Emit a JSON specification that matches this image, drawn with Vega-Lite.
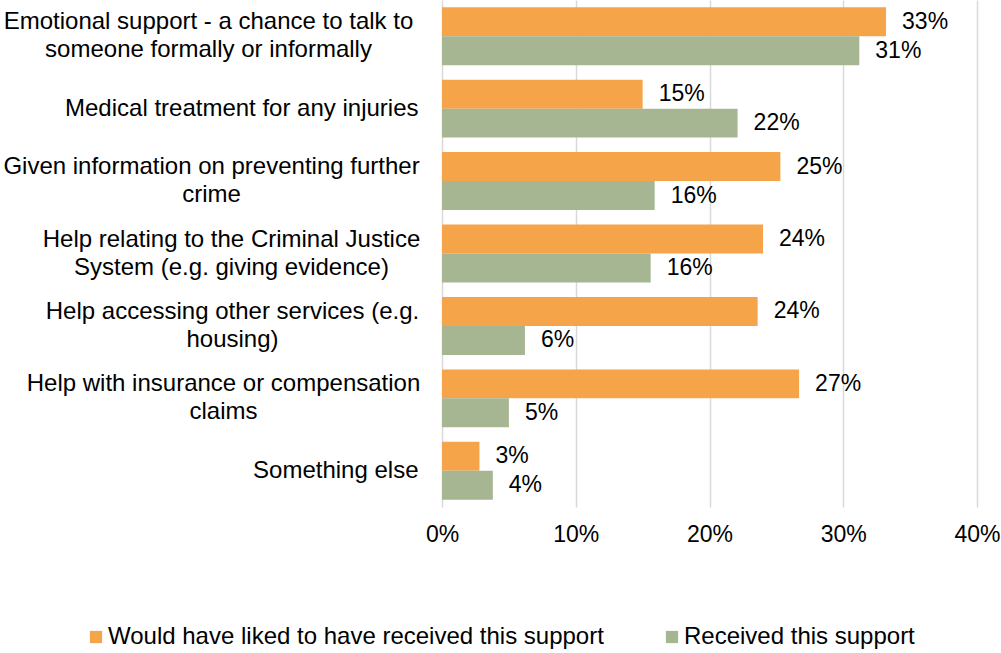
{
  "$schema": "https://vega.github.io/schema/vega-lite/v6.json",
  "width": 535,
  "height": 507,
  "autosize": {"type": "none"},
  "padding": {"left": 442, "top": 0, "right": 24, "bottom": 146},
  "config": {"view": {"stroke": null}, "font": "Liberation Sans"},
  "data": {
    "values": [
      {"category": "Emotional support - a chance to talk to|someone formally or informally", "series": "Would have liked to have received this support", "value": 0.332},
      {"category": "Emotional support - a chance to talk to|someone formally or informally", "series": "Received this support", "value": 0.312},
      {"category": "Medical treatment for any injuries", "series": "Would have liked to have received this support", "value": 0.150},
      {"category": "Medical treatment for any injuries", "series": "Received this support", "value": 0.221},
      {"category": "Given information on preventing further|crime", "series": "Would have liked to have received this support", "value": 0.253},
      {"category": "Given information on preventing further|crime", "series": "Received this support", "value": 0.159},
      {"category": "Help relating to the Criminal Justice|System (e.g. giving evidence)", "series": "Would have liked to have received this support", "value": 0.240},
      {"category": "Help relating to the Criminal Justice|System (e.g. giving evidence)", "series": "Received this support", "value": 0.156},
      {"category": "Help accessing other services (e.g.|housing)", "series": "Would have liked to have received this support", "value": 0.236},
      {"category": "Help accessing other services (e.g.|housing)", "series": "Received this support", "value": 0.062},
      {"category": "Help with insurance or compensation|claims", "series": "Would have liked to have received this support", "value": 0.267},
      {"category": "Help with insurance or compensation|claims", "series": "Received this support", "value": 0.050},
      {"category": "Something else", "series": "Would have liked to have received this support", "value": 0.028},
      {"category": "Something else", "series": "Received this support", "value": 0.038}
    ]
  },
  "encoding": {
    "y": {
      "field": "category",
      "type": "nominal",
      "sort": [
        "Emotional support - a chance to talk to|someone formally or informally",
        "Medical treatment for any injuries",
        "Given information on preventing further|crime",
        "Help relating to the Criminal Justice|System (e.g. giving evidence)",
        "Help accessing other services (e.g.|housing)",
        "Help with insurance or compensation|claims",
        "Something else"
      ],
      "scale": {"paddingInner": 0.2, "paddingOuter": 0.1},
      "axis": {
        "title": null,
        "domain": false,
        "ticks": false,
        "labelExpr": "split(datum.label, '|')",
        "labelFontSize": 24,
        "labelColor": "#000000",
        "labelAlign": {"condition": {"test": "indexof(datum.value, '|') >= 0", "value": "center"}, "value": "right"},
        "labelOffset": {"condition": {"test": "indexof(datum.value, '|') >= 0", "value": -14}, "value": 0},
        "labelPadding": {
          "condition": [
            {"test": "indexof(datum.value, 'Emotional') == 0", "value": 234},
            {"test": "indexof(datum.value, 'Given') == 0", "value": 231},
            {"test": "indexof(datum.value, 'Help relating') == 0", "value": 211},
            {"test": "indexof(datum.value, 'Help accessing') == 0", "value": 210},
            {"test": "indexof(datum.value, 'Help with') == 0", "value": 219}
          ],
          "value": 24
        },
        "labelLineHeight": 28,
        "labelLimit": 0
      }
    },
    "yOffset": {
      "field": "series",
      "sort": ["Would have liked to have received this support", "Received this support"]
    },
    "x": {
      "field": "value",
      "type": "quantitative",
      "scale": {"domain": [0, 0.4]},
      "axis": {
        "title": null,
        "values": [0, 0.1, 0.2, 0.3, 0.4],
        "format": ".0%",
        "domain": false,
        "ticks": false,
        "grid": true,
        "gridColor": "#d9d9d9",
        "gridWidth": 1.5,
        "labelFontSize": 23,
        "labelColor": "#000000",
        "labelPadding": 16,
        "labelFlush": false
      }
    }
  },
  "layer": [
    {
      "mark": {"type": "bar"},
      "encoding": {
        "color": {
          "field": "series",
          "type": "nominal",
          "scale": {
            "domain": ["Would have liked to have received this support", "Received this support"],
            "range": ["#F5A449", "#A6B692"]
          },
          "legend": {
            "orient": "none",
            "legendX": -358,
            "legendY": 625,
            "direction": "horizontal",
            "title": null,
            "symbolType": "square",
            "symbolSize": 150,
            "symbolStrokeWidth": 0,
            "labelFontSize": 24,
            "labelColor": "#000000",
            "labelLimit": 0,
            "labelOffset": 0,
            "columnPadding": 56
          }
        }
      }
    },
    {
      "mark": {"type": "text", "align": "left", "baseline": "middle", "dx": 16, "fontSize": 23, "color": "#000000"},
      "encoding": {
        "text": {"field": "value", "type": "quantitative", "format": ".0%"}
      }
    }
  ]
}
